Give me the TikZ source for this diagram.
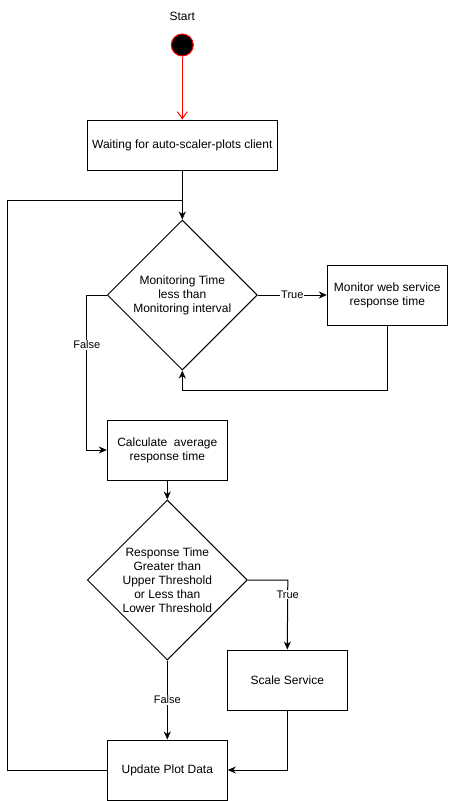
\documentclass[tikz,border=0pt]{standalone}
\usepackage{fontspec}
\setmainfont{Liberation Sans}
\usetikzlibrary{arrows.meta,shapes.geometric}
\begin{document}
\begin{tikzpicture}[x=1pt,y=-1pt,
  font=\fontsize{12}{14}\selectfont,
  every path/.style={line width=1pt},
  box/.style={draw=black, rectangle, inner sep=0pt, align=center},
  dia/.style={draw=black, diamond, inner sep=0pt},
  diatext/.style={align=center, inner sep=0pt},
  arr/.style={-{Stealth[length=8pt,width=7pt,inset=2.5pt]}},
  openarr/.style={-{Straight Barb[length=7pt,width=10pt,line width=1pt]}},
  lbl/.style={fill=white, inner sep=1pt, font=\fontsize{11}{13}\selectfont}]
\useasboundingbox (0,0) rectangle (448,801);

\node (starttxt) at (182.3,16) {Start};
\node[circle, fill=black, draw=red, minimum size=22pt, inner sep=0pt] (start) at (182.3,45) {};
\node[box, minimum width=190pt, minimum height=50pt] (wait) at (182.3,145) {Waiting for auto-scaler-plots client};
\node[dia, minimum width=150pt, minimum height=150pt] (d1) at (182.3,295) {};
\node[diatext] (d1t) at (d1.center) {Monitoring Time\\less than\\Monitoring interval};
\node[box, minimum width=120pt, minimum height=60pt] (mon) at (387.3,295) {Monitor web service\\response time};
\node[box, minimum width=120pt, minimum height=60pt] (calc) at (167.3,450) {Calculate~ average\\response time};
\node[dia, minimum width=160pt, minimum height=160pt] (d2) at (167.3,580) {};
\node[diatext] (d2t) at (d2.center) {Response Time\\Greater than\\Upper Threshold\\or Less than\\Lower Threshold};
\node[box, minimum width=120pt, minimum height=60pt] (scale) at (287.3,680) {Scale Service};
\node[box, minimum width=120pt, minimum height=60pt] (upd) at (167.3,770) {Update Plot Data};

\coordinate (loopL) at (7.3,770);
\coordinate (join) at (182.3,200);

\draw[red, openarr] (start.south) -- (wait.north);
\draw[arr] (wait.south) -- (d1.north);
\draw (upd.west) -- (loopL) |- (join);
\draw[arr] (d1.east) -- node[lbl]{True} (mon.west);
\draw[arr] (mon.south) -- ++(0,65) -| (d1.south);
\draw[arr] (d1.west) -- ++(-20,0) coordinate (f1) -- (f1 |- calc.west) node[lbl, pos=0.32]{False} -- (calc.west);
\draw[arr] (calc.south) -- (d2.north);
\draw[arr] (d2.east) -- ++(40,0) coordinate (t2) -- node[lbl, pos=0.21]{True} (scale.north);
\draw[arr] (d2.south) -- node[lbl]{False} (upd.north);
\draw[arr] (scale.south) |- (upd.east);
\end{tikzpicture}
\end{document}
